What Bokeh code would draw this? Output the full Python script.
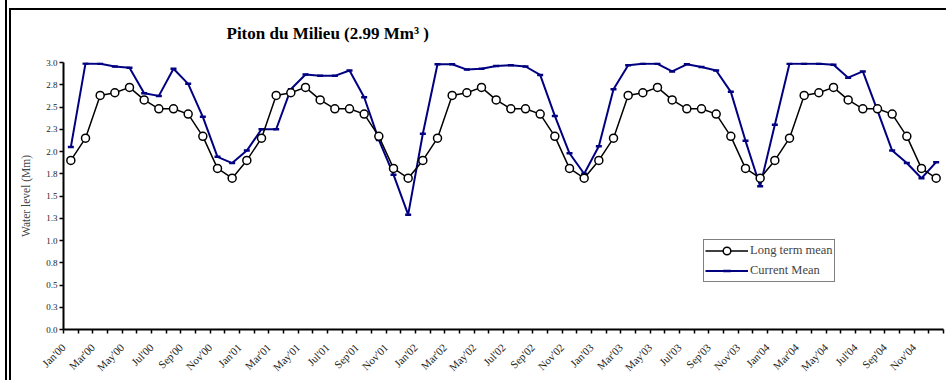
import math
from bokeh.plotting import figure
from bokeh.layouts import column
from bokeh.models import (FixedTicker, Legend, LegendItem, PrintfTickFormatter,
                          ColumnDataSource)
from bokeh.embed import file_html
from bokeh.resources import INLINE

# Month labels, Jan'00 .. Dec'04
month_names = ["Jan", "Feb", "Mar", "Apr", "May", "Jun",
               "Jul", "Aug", "Sep", "Oct", "Nov", "Dec"]
years = ["00", "01", "02", "03", "04"]
months = [f"{m}'{y}" for y in years for m in month_names]

# Long term monthly mean water level (Mm)
long_term_mean = [
    1.90, 2.15, 2.63, 2.66, 2.72, 2.58, 2.48, 2.48, 2.42, 2.17, 1.81, 1.70,
    1.90, 2.15, 2.63, 2.66, 2.72, 2.58, 2.48, 2.48, 2.42, 2.17, 1.81, 1.70,
    1.90, 2.15, 2.63, 2.66, 2.72, 2.58, 2.48, 2.48, 2.42, 2.17, 1.81, 1.70,
    1.90, 2.15, 2.63, 2.66, 2.72, 2.58, 2.48, 2.48, 2.42, 2.17, 1.81, 1.70,
    1.90, 2.15, 2.63, 2.66, 2.72, 2.58, 2.48, 2.48, 2.42, 2.17, 1.81, 1.70,
]

# Current monthly mean water level (Mm)
current_mean = [
    2.05, 2.99, 2.985, 2.955, 2.94, 2.655, 2.625, 2.93, 2.76, 2.39, 1.94, 1.87,
    2.01, 2.25, 2.25, 2.70, 2.865, 2.85, 2.85, 2.91, 2.61, 2.13, 1.74, 1.29,
    2.20, 2.98, 2.98, 2.92, 2.93, 2.96, 2.97, 2.955, 2.86, 2.40, 1.98, 1.75,
    2.06, 2.70, 2.97, 2.985, 2.985, 2.90, 2.98, 2.95, 2.91, 2.67, 2.12, 1.61,
    2.30, 2.985, 2.985, 2.985, 2.975, 2.83, 2.90, 2.46, 2.01, 1.87, 1.70, 1.88,
]

y_ticks = [0.0, 0.25, 0.5, 0.75, 1.0, 1.25, 1.5, 1.75, 2.0, 2.25, 2.5, 2.75, 3.0]

title_text = "Piton du Milieu (2.99 Mm\u00b3 )"

SERIF = "Liberation Serif"
NAVY = "#000080"

idx = list(range(len(months)))
src = ColumnDataSource(dict(x=idx, lt=long_term_mean, cur=current_mean))

p = figure(width=935, height=379, x_range=(-0.5, len(months) - 0.5), y_range=(0, 3.0),
           output_backend="svg", toolbar_location=None,
           min_border_left=52, min_border_right=3, min_border_top=61, min_border_bottom=51)
p.outline_line_color = None
p.grid.visible = False
p.background_fill_color = "white"
p.border_fill_alpha = 0

# title
p.title.text = title_text
p.title.align = "left"
p.title.offset = 163
p.title.standoff = 40
p.title.text_font = SERIF
p.title.text_font_size = "17px"
p.title.text_font_style = "bold"
p.title.text_color = "black"

# x axis: tick marks between categories; every second month is labelled,
# the label hung from the left edge of its category
label_pos = [i - 0.5 for i in idx[::2]]
p.xaxis.ticker = FixedTicker(ticks=label_pos,
                             minor_ticks=[i - 0.5 for i in range(len(months) + 1)])
p.xaxis.major_label_overrides = {pos: months[i] for pos, i in zip(label_pos, idx[::2])}
p.xaxis.major_tick_out = 0
p.xaxis.major_tick_in = 0
p.xaxis.minor_tick_out = 4
p.xaxis.minor_tick_in = 0
p.xaxis.minor_tick_line_width = 1.5
p.xaxis.minor_tick_line_color = "black"
p.xaxis.major_label_orientation = math.pi / 4
p.xaxis.major_label_standoff = 12
p.xaxis.major_label_text_font_size = "11px"
p.xaxis.axis_line_width = 2
p.xaxis.axis_line_color = "black"

# y axis
p.yaxis.ticker = FixedTicker(ticks=y_ticks, minor_ticks=[])
p.yaxis.formatter = PrintfTickFormatter(format="%.1f")
p.yaxis.major_tick_out = 4
p.yaxis.major_tick_in = 0
p.yaxis.major_tick_line_width = 1.5
p.yaxis.axis_line_width = 2
p.yaxis.axis_line_color = "black"
p.yaxis.major_label_standoff = 2
p.yaxis.major_label_text_font_size = "9px"
p.yaxis.axis_label = "Water level (Mm)"
p.yaxis.axis_label_text_font = SERIF
p.yaxis.axis_label_text_font_size = "11.5px"
p.yaxis.axis_label_text_font_style = "normal"
p.yaxis.axis_label_standoff = 11

for ax in (p.xaxis, p.yaxis):
    ax.major_label_text_font = SERIF
    ax.major_label_text_color = "#222222"

# series
cur_line = p.line("x", "cur", source=src, line_color=NAVY, line_width=2)
cur_mark = p.scatter("x", "cur", source=src, marker="dash", size=6,
                     line_color=NAVY, line_width=2.5)
lt_line = p.line("x", "lt", source=src, line_color="black", line_width=1.5)
lt_mark = p.scatter("x", "lt", source=src, marker="circle", size=8,
                    fill_color="white", line_color="black", line_width=1.5)

legend = Legend(items=[LegendItem(label="Long term mean", renderers=[lt_line, lt_mark]),
                       LegendItem(label="Current Mean", renderers=[cur_line, cur_mark])],
                location=(640, 47), orientation="vertical",
                glyph_width=43, glyph_height=19, label_height=19, label_standoff=2,
                padding=1, spacing=1, margin=0,
                label_text_font=SERIF, label_text_font_size="12.5px",
                border_line_color="black", border_line_width=1.5,
                background_fill_color="white", background_fill_alpha=1)
p.add_layout(legend)

# page frame around the chart: double rule on the left, single rule along the top
frame_bg = ("linear-gradient(#000,#000) 5px 0px / 2px 382px no-repeat, "
            "linear-gradient(#000,#000) 9px 8px / 2px 374px no-repeat, "
            "linear-gradient(#000,#000) 9px 8px / 939px 2px no-repeat, "
            "#ffffff")
page = column(p, styles={"background": frame_bg, "padding-left": "11px",
                         "padding-top": "1px", "overflow": "hidden"})

open("out.html", "w").write(file_html(page, INLINE))
